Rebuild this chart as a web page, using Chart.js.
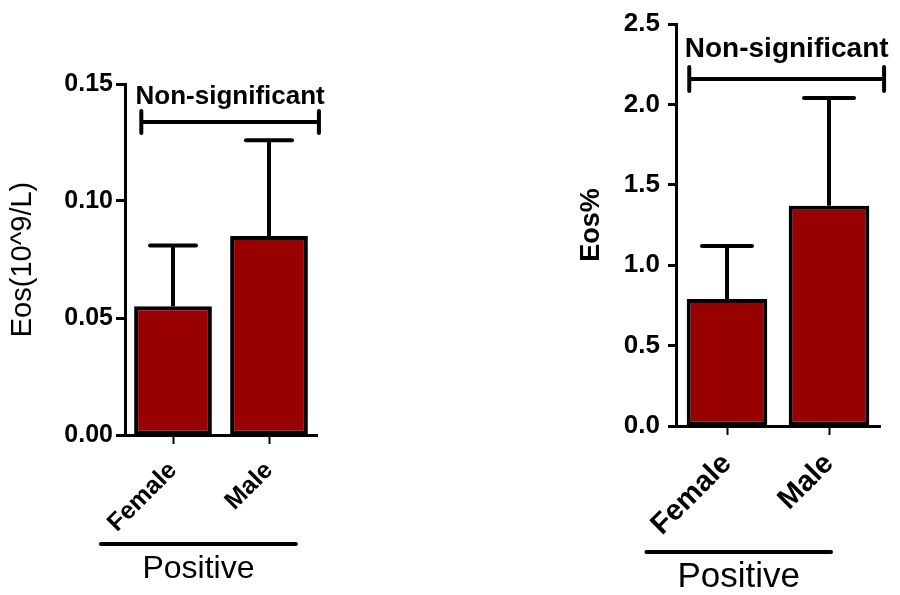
<!DOCTYPE html>
<html>
<head>
<meta charset="utf-8">
<script src="https://cdn.jsdelivr.net/npm/chart.js@4/dist/chart.umd.min.js"></script>
<style>
  html, body { margin: 0; padding: 0; background: #fff; }
  #wrap { position: relative; width: 900px; height: 595px; overflow: hidden; }
  .panel { position: absolute; top: 0; width: 450px; height: 595px; }
  #p1 { left: 0; }
  #p2 { left: 450px; }
</style>
</head>
<body>
<div id="wrap">
  <div class="panel" id="p1"><canvas id="c1" width="450" height="595"></canvas></div>
  <div class="panel" id="p2"><canvas id="c2" width="450" height="595"></canvas></div>
</div>
<script>
// Eosinophils by sex in the positive group: mean and SD
const groups = ['Female', 'Male'];
const groupLabel = 'Positive';

const countMean = [0.055, 0.085];   // Eos (10^9/L)
const countSD   = [0.026, 0.041];
const countTicks = [0, 0.05, 0.10, 0.15];

const pctMean = [0.79, 1.37];       // Eos %
const pctSD   = [0.33, 0.67];
const pctTicks = [0, 0.5, 1.0, 1.5, 2.0, 2.5];

const FONT = "'Liberation Sans', Arial, sans-serif";
const BAR_FILL = '#990000';

// Upward error bars (mean + SD) with a capped top
const errorBars = {
  id: 'errorBars',
  afterDatasetsDraw(chart, args, opts) {
    const { ctx } = chart;
    const y = chart.scales.y;
    chart.data.datasets.forEach((ds, di) => {
      const meta = chart.getDatasetMeta(di);
      meta.data.forEach((bar, i) => {
        const top = y.getPixelForValue(ds.data[i] + ds.sd[i]);
        ctx.save();
        ctx.strokeStyle = '#000';
        ctx.lineWidth = opts.width;
        ctx.lineCap = 'butt';
        ctx.beginPath();
        ctx.moveTo(bar.x, bar.y);
        ctx.lineTo(bar.x, top);
        ctx.stroke();
        ctx.lineCap = 'round';
        ctx.beginPath();
        ctx.moveTo(bar.x - opts.cap, top);
        ctx.lineTo(bar.x + opts.cap, top);
        ctx.stroke();
        ctx.restore();
      });
    });
  }
};

// Comparison bracket with its caption
const bracket = {
  id: 'bracket',
  afterDraw(chart, args, o) {
    const { ctx } = chart;
    const x = chart.scales.x, y = chart.scales.y;
    const x0 = x.getPixelForValue(o.from), x1 = x.getPixelForValue(o.to);
    const yy = y.getPixelForValue(o.level);
    ctx.save();
    ctx.strokeStyle = '#000';
    ctx.lineWidth = o.width;
    ctx.lineCap = 'round';
    ctx.beginPath();
    ctx.moveTo(x0, yy); ctx.lineTo(x1, yy);
    ctx.moveTo(x0, yy - o.capHeight); ctx.lineTo(x0, yy + o.capHeight);
    ctx.moveTo(x1, yy - o.capHeight); ctx.lineTo(x1, yy + o.capHeight);
    ctx.stroke();
    ctx.fillStyle = '#000';
    ctx.font = o.font;
    ctx.textAlign = 'center';
    ctx.textBaseline = 'middle';
    ctx.fillText(o.text, (x0 + x1) / 2 + o.textShift, y.getPixelForValue(o.textLevel));
    ctx.restore();
  }
};

// Underlined group caption below the category labels
const groupCaption = {
  id: 'groupCaption',
  afterDraw(chart, args, o) {
    const { ctx } = chart;
    const x = chart.scales.x;
    const x0 = x.getPixelForValue(o.from), x1 = x.getPixelForValue(o.to);
    ctx.save();
    ctx.strokeStyle = '#000';
    ctx.lineWidth = o.width;
    ctx.lineCap = 'round';
    ctx.beginPath();
    ctx.moveTo(x0, o.lineY); ctx.lineTo(x1, o.lineY);
    ctx.stroke();
    ctx.fillStyle = '#000';
    ctx.font = o.font;
    ctx.textAlign = 'center';
    ctx.textBaseline = 'middle';
    ctx.fillText(o.text, (x0 + x1) / 2, o.textY);
    ctx.restore();
  }
};

function makeChart(id, cfg) {
  return new Chart(document.getElementById(id), {
    type: 'bar',
    data: {
      labels: groups,
      datasets: [{
        data: cfg.mean,
        sd: cfg.sd,
        backgroundColor: BAR_FILL,
        borderColor: '#000',
        borderWidth: 4,
        borderSkipped: false,
        categoryPercentage: 1,
        barPercentage: cfg.barPct
      }]
    },
    plugins: [errorBars, bracket, groupCaption],
    options: {
      responsive: false,
      animation: false,
      events: [],
      layout: { padding: cfg.padding },
      plugins: {
        legend: { display: false },
        tooltip: { enabled: false },
        errorBars: { width: 4, cap: cfg.cap },
        bracket: cfg.bracket,
        groupCaption: cfg.caption
      },
      scales: {
        x: {
          offset: true,
          grid: { display: true, drawOnChartArea: false, offset: false, tickLength: 9, tickWidth: 2, tickColor: '#000' },
          border: { display: true, color: '#000', width: 3 },
          ticks: {
            color: '#000',
            font: { family: FONT, size: cfg.xFont, weight: 'bold' },
            minRotation: 45, maxRotation: 45,
            padding: cfg.xPad,
            autoSkip: false
          },
          afterFit(s) { s.height = cfg.xHeight; }
        },
        y: {
          min: cfg.ticks[0],
          max: cfg.ticks[cfg.ticks.length - 1],
          afterBuildTicks(s) { s.ticks = cfg.ticks.map(v => ({ value: v })); },
          grid: { display: true, drawOnChartArea: false, tickLength: cfg.yTickLen, tickWidth: 3, tickColor: '#000' },
          border: { display: true, color: '#000', width: 3 },
          ticks: {
            color: '#000',
            padding: cfg.yPad,
            font: { family: FONT, size: cfg.yFont, weight: 'bold' },
            callback: v => Number(v).toFixed(cfg.decimals)
          },
          title: {
            display: true,
            text: cfg.title,
            color: '#000',
            font: { family: FONT, size: cfg.titleFont, weight: cfg.titleWeight },
            padding: { top: cfg.titlePad, bottom: 0 }
          },
          afterFit(s) { s.width = cfg.yWidth; }
        }
      }
    }
  });
}

makeChart('c1', {
  mean: countMean, sd: countSD, ticks: countTicks, decimals: 2,
  barPct: 0.81, cap: 23,
  padding: { left: 0, top: 84, right: 133, bottom: 0 },
  yWidth: 125, xHeight: 160,
  xFont: 25, xPad: 12, yFont: 25, yPad: 3, yTickLen: 9,
  title: 'Eos(10^9/L)', titleFont: 29, titleWeight: 'normal', titlePad: 6,
  bracket: { text: 'Non-significant', from: -0.33, to: 1.52, level: 0.1338, textLevel: 0.1444,
             capHeight: 11, width: 4, font: 'bold 26px ' + FONT, textShift: 0 },
  caption: { text: groupLabel, from: -0.75, to: 1.28, lineY: 544, textY: 569, width: 4, font: '32px ' + FONT }
});

makeChart('c2', {
  mean: pctMean, sd: pctSD, ticks: pctTicks, decimals: 1,
  barPct: 0.79, cap: 25,
  padding: { left: 100, top: 24, right: 20, bottom: 0 },
  yWidth: 126, xHeight: 169,
  xFont: 29, xPad: 12, yFont: 26, yPad: 8, yTickLen: 8,
  title: 'Eos%', titleFont: 27, titleWeight: 'bold', titlePad: 25,
  bracket: { text: 'Non-significant', from: -0.37, to: 1.54, level: 2.158, textLevel: 2.34,
             capHeight: 12, width: 4, font: 'bold 28px ' + FONT, textShift: 0 },
  caption: { text: groupLabel, from: -0.79, to: 1.02, lineY: 552, textY: 577, width: 4, font: '35px ' + FONT }
});
</script>
</body>
</html>
